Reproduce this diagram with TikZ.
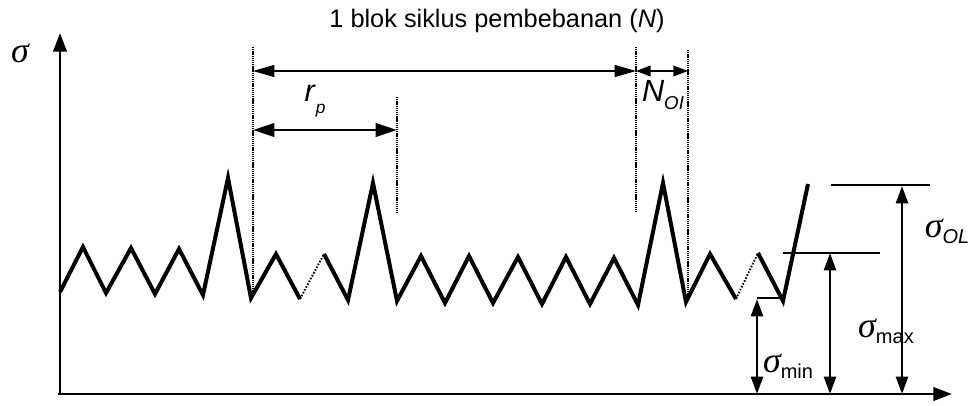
\documentclass[tikz,border=0pt]{standalone}
\usepackage{fontspec}
\setmainfont{Liberation Sans}
\newfontfamily\greekfont{Liberation Serif}
\usetikzlibrary{arrows.meta}

\newcommand{\sgm}{{\greekfont\itshape\fontsize{27}{27}\selectfont σ}}
\newcommand{\sgmsub}[1]{\sgm\raisebox{-0.9ex}{\fontsize{15}{15}\selectfont #1}}

\begin{document}
\begin{tikzpicture}[x=0.75pt, y=-0.75pt,
    axis/.style={line width=2.2pt, -{Triangle[length=14pt, width=10pt]}},
    signal/.style={line width=3pt, line join=miter},
    skip/.style={line width=1.4pt, dash pattern=on 1.2pt off 1.2pt},
    guide/.style={line width=0.8pt, dash pattern=on 1pt off 0.6pt},
    level/.style={line width=1.3pt},
    span/.style={line width=0.9pt, {Triangle[length=16pt, width=9pt]}-{Triangle[length=16pt, width=9pt]}},
    spanshort/.style={line width=1.4pt, {Triangle[length=11pt, width=8pt]}-{Triangle[length=11pt, width=8pt]}},
    spanbold/.style={line width=2.2pt, {Triangle[length=16pt, width=10pt]}-{Triangle[length=16pt, width=10pt]}},
    stress/.style={line width=1.8pt, {Triangle[length=13pt, width=9pt]}-{Triangle[length=13pt, width=9pt]}},
    label/.style={inner sep=0pt}
]
\useasboundingbox (0,0) rectangle (971,406);

% Axes
\coordinate (origin) at (60,394);
\coordinate (ytop) at (60,33);
\coordinate (xend) at (952,394);
\draw[axis] (origin) -- (ytop);
\draw[axis] (58,394) -- (xend);
\node[label] (ysig) at (20,53) {\sgm};

% Load signal
\draw[signal] (60,292) -- (83,247) -- (106,293) -- (131,248) -- (155,294) -- (179,249) -- (203,295)
    -- (228,178) -- (251,298) -- (276,254) -- (300,299);
\draw[skip] (300,299) -- (324,254);
\draw[signal] (324,254) -- (348,300) -- (373,183) -- (397,301) -- (421,256) -- (445,303) -- (469,256)
    -- (493,303) -- (518,257) -- (542,304) -- (566,257) -- (590,304) -- (614,258) -- (638,305)
    -- (663,183) -- (686,302) -- (710,254) -- (736,299);
\draw[skip] (736,299) -- (758,253);
\draw[signal] (758,253) -- (783,301) -- (808,184);
\draw[line width=1.8pt] (757,298) -- (783,298);

% Guide lines
\draw[guide] (253,47) -- (253,296);
\draw[guide] (397,97) -- (397,213);
\draw[guide] (636,47) -- (636,212);
\draw[guide] (688,50) -- (688,295);

% Block and r_p spans
\coordinate (blkL) at (253,71);
\coordinate (blkR) at (636,71);
\coordinate (olR) at (688,71);
\coordinate (rpL) at (253,130);
\coordinate (rpR) at (397,130);
\draw[span] (blkL) -- (blkR);
\draw[spanshort] (blkR) -- (olR);
\draw[spanbold] (rpL) -- (rpR);
\node[label, anchor=base, font=\fontsize{19}{21}\selectfont] (title) at (497,28) {1 blok siklus pembebanan (\textit{N})};
\node[label, font=\fontsize{23}{24}\selectfont] (rp) at (315,101) {\textit{r}\raisebox{-0.7ex}{\fontsize{13}{13}\selectfont\textit{p}}};
\node[label, font=\fontsize{23}{24}\selectfont] (nol) at (663,95) {\textit{N}\raisebox{-0.5ex}{\fontsize{14}{14}\selectfont\textit{OI}}};

% Stress levels
\coordinate (maxL) at (783,253);
\coordinate (maxR) at (880,253);
\coordinate (olL) at (831,185);
\coordinate (olRR) at (930,185);
\draw[level] (maxL) -- (maxR);
\draw[level] (olL) -- (olRR);

\coordinate (minT) at (757,299);
\coordinate (minB) at (757,394);
\coordinate (maxT) at (830,253);
\coordinate (maxB) at (830,394);
\coordinate (olT) at (902,186);
\coordinate (olB) at (902,394);
\draw[stress] (minT) -- (minB);
\draw[stress] (maxT) -- (maxB);
\draw[stress] (olT) -- (olB);
\node[label] (smin) at (788,366) {\sgmsub{min}};
\node[label] (smax) at (886,331) {\sgmsub{max}};
\node[label] (sol) at (947,231) {\sgmsub{\textit{OL}}};
\end{tikzpicture}
\end{document}
